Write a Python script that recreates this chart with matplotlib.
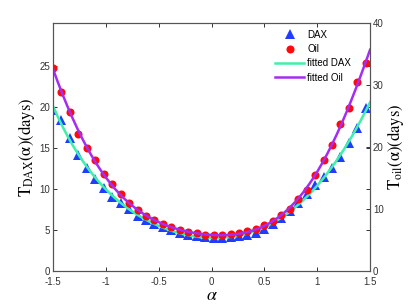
import matplotlib
matplotlib.use('Agg')
import matplotlib.pyplot as plt
import numpy as np

plt.rcParams['font.family'] = ['Liberation Sans', 'DejaVu Sans']
plt.rcParams['mathtext.fontset'] = 'stix'
plt.rcParams['axes.unicode_minus'] = False

# alpha grid of the measured points
alpha = [-1.5 + 0.08 * k for k in range(38)]

# T_DAX(alpha) in days (left axis)
t_dax = [19.7, 18.4, 16.3, 14.2, 12.6, 11.3, 10.2, 9.1, 8.3, 7.6,
         6.8, 6.3, 5.8, 5.4, 5.0, 4.7, 4.45, 4.3, 4.2, 4.1,
         4.1, 4.2, 4.3, 4.45, 4.7, 5.2, 5.8, 6.5, 7.3, 8.3,
         9.4, 10.5, 11.5, 12.6, 13.9, 15.6, 17.5, 19.9]

# T_oil(alpha) in days (right axis)
t_oil = [32.7, 28.9, 25.7, 22.1, 19.8, 18.0, 15.7, 14.0, 12.4, 11.0,
         9.8, 8.9, 8.2, 7.6, 7.15, 6.6, 6.3, 6.1, 5.8, 5.8,
         5.8, 6.0, 6.2, 6.45, 6.8, 7.5, 8.1, 9.1, 10.1, 11.6,
         13.1, 15.5, 17.9, 20.4, 23.7, 26.3, 30.5, 33.5]

x_ticks = [-1.5, -1, -0.5, 0, 0.5, 1, 1.5]
x_tick_labels = ['-1.5', '-1', '-0.5', '0', '0.5', '1', '1.5']
left_ticks = [0, 5, 10, 15, 20, 25]
right_ticks = [0, 10, 20, 30, 40]

# fitted curves (polynomial least squares on the points)
a_fit = np.linspace(-1.5, 1.5, 200)
fit_dax = np.polyval(np.polyfit(alpha, t_dax, 6), a_fit)
fit_oil = np.polyval(np.polyfit(alpha, t_oil, 6), a_fit)

fig = plt.figure(figsize=(4.08, 3.06), dpi=100)
ax = fig.add_axes([0.130, 0.1134, 0.777, 0.8116])
ax2 = ax.twinx()

h1, = ax.plot(alpha, t_dax, '^', color='#1f3cff', markersize=7.5, markeredgewidth=0)
h3, = ax.plot(a_fit, fit_dax, '-', color='#3ef0a8', linewidth=1.8)
h2, = ax2.plot(alpha, t_oil, 'o', color='#ff0a0a', markersize=5.8, markeredgewidth=0)
h4, = ax2.plot(a_fit, fit_oil, '-', color='#a52cf2', linewidth=1.8)

ax.set_xlim(-1.5, 1.5)
ax.set_ylim(0, 30.3)
ax2.set_ylim(0, 40)
ax.set_xticks(x_ticks)
ax.set_xticklabels(x_tick_labels)
ax.set_yticks(left_ticks)
ax2.set_yticks(right_ticks)

ax.tick_params(direction='in', length=3, width=0.7, labelsize=7, colors='#333333',
               top=True, right=True, labelright=False, pad=2)
ax.tick_params(axis='x', pad=4)
ax2.tick_params(direction='in', length=3, width=0.7, labelsize=7, colors='#333333',
                left=False, right=True, pad=2)
for a in (ax, ax2):
    for s in a.spines.values():
        s.set_color('#555555')
        s.set_linewidth(0.8)

ax.set_xlabel(r'$\alpha$', fontsize=13, labelpad=0)
ax.set_ylabel(r'$\mathrm{T_{DAX}(\alpha)(days)}$', fontsize=12, labelpad=2)
ax2.set_ylabel(r'$\mathrm{T_{oil}(\alpha)(days)}$', fontsize=12, labelpad=1)

ax2.legend([h1, h2, h3, h4], ['DAX', 'Oil', 'fitted DAX', 'fitted Oil'],
           loc='upper right', bbox_to_anchor=(0.968, 1.008), frameon=False,
           fontsize=7, handlelength=3.0, labelspacing=0.45, handletextpad=0.3)

fig.savefig('out.png', dpi=100)
plt.close(fig)
